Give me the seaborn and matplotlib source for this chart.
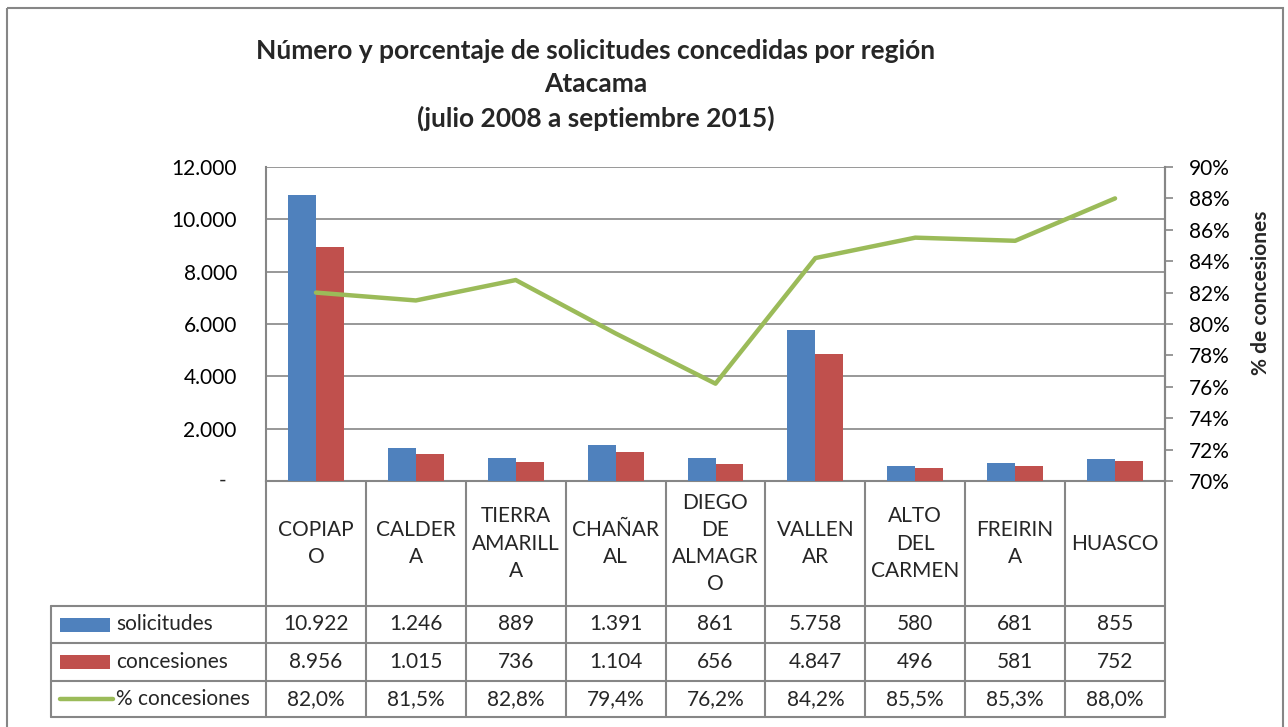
import numpy as np
import pandas as pd
import matplotlib
matplotlib.use("Agg")
import matplotlib.pyplot as plt
import matplotlib.transforms as mtransforms
from matplotlib.patches import Rectangle
from matplotlib.lines import Line2D
import seaborn as sns

# ---------------- data ----------------
regiones = ["COPIAPO", "CALDERA", "TIERRA AMARILLA", "CHAÑARAL", "DIEGO DE ALMAGRO",
            "VALLENAR", "ALTO DEL CARMEN", "FREIRINA", "HUASCO"]
etiquetas = ["COPIAP\nO", "CALDER\nA", "TIERRA\nAMARILL\nA", "CHAÑAR\nAL",
             "DIEGO\nDE\nALMAGR\nO", "VALLEN\nAR", "ALTO\nDEL\nCARMEN", "FREIRIN\nA", "HUASCO"]
solicitudes = [10922, 1246, 889, 1391, 861, 5758, 580, 681, 855]
concesiones = [8956, 1015, 736, 1104, 656, 4847, 496, 581, 752]
pct_concesiones = [82.0, 81.5, 82.8, 79.4, 76.2, 84.2, 85.5, 85.3, 88.0]
series = ["solicitudes", "concesiones", "% concesiones"]
titulo = "Número y porcentaje de solicitudes concedidas por región\nAtacama\n(julio 2008 a septiembre 2015)"
y_ticks = [0, 2000, 4000, 6000, 8000, 10000, 12000]
y2_ticks = [70, 72, 74, 76, 78, 80, 82, 84, 86, 88, 90]

BLUE, RED, GREEN, GRID = "#4F81BD", "#C0504D", "#9BBB59", "#868686"
FS = 15

sns.set_theme(style="white")
plt.rcParams["font.family"] = ["Lato", "DejaVu Sans"]

W, H = 1288, 727
fig = plt.figure(figsize=(W / 100, H / 100), dpi=100)

def fx(x):
    return x / W

def fy(y):
    return 1 - y / H

# overlay with pixel coords
ov = fig.add_axes([0, 0, 1, 1], zorder=-1)
ov.set_xlim(0, W)
ov.set_ylim(H, 0)
ov.axis("off")

L, R, T, B = 266, 1165, 167, 481
ax = fig.add_axes([fx(L), fy(B), fx(R - L), (B - T) / H])

df = pd.DataFrame({
    "region": regiones * 2,
    "valor": solicitudes + concesiones,
    "serie": [series[0]] * len(regiones) + [series[1]] * len(regiones),
})
sns.barplot(data=df, x="region", y="valor", hue="serie", palette=[BLUE, RED],
            width=0.56, saturation=1, linewidth=0, legend=False, ax=ax, zorder=3)
ax.set_xlim(-0.5, len(regiones) - 0.5)
ax.set_ylim(0, 12000)
ax.set_yticks(y_ticks)
ax.set_yticklabels([("" if v == 0 else f"{v:,}".replace(",", ".")) for v in y_ticks],
                   fontsize=FS, color="black")
ax.set_xticks([])
ax.set_xlabel("")
ax.set_ylabel("")
ax.yaxis.grid(True, color=GRID, linewidth=1.2, zorder=0)
ax.set_axisbelow(True)
ax.tick_params(axis="y", length=0, pad=21)
ax.spines["top"].set_visible(False)
for s in ["left", "right", "bottom"]:
    ax.spines[s].set_color(GRID)
    ax.spines[s].set_linewidth(1.5)
# accounting-style dash for the zero tick
trz = mtransforms.blended_transform_factory(ov.transData, ax.transData)
ov.text(223, y_ticks[0], "-", transform=trz, ha="center", va="center", fontsize=FS)

ax2 = ax.twinx()
sns.lineplot(x=np.arange(len(regiones)), y=pct_concesiones, color=GREEN, linewidth=3.2,
             ax=ax2, zorder=4)
ax2.set_ylim(70, 90)
ax2.set_yticks(y2_ticks)
ax2.set_yticklabels([f"{v}%" for v in y2_ticks], fontsize=FS, color="black")
ax2.tick_params(axis="y", length=6, width=1.2, color=GRID, pad=11, direction="out")
for s in ["top", "left", "bottom"]:
    ax2.spines[s].set_visible(False)
ax2.spines["right"].set_color(GRID)
ax2.spines["right"].set_linewidth(1.5)
ax2.set_xlim(-0.5, len(regiones) - 0.5)

fig.text(fx(1261), fy(293), "% de concesiones", rotation=90, ha="center", va="center",
         fontsize=FS, fontweight="bold")

fig.text(fx(596), fy(85), titulo, ha="center", va="center", fontsize=19,
         fontweight="bold", linespacing=1.45)

# ---------------- data table ----------------
tr = mtransforms.blended_transform_factory(ax.transData, ov.transData)
n = len(regiones)
bounds = np.arange(n + 1) - 0.5
lkw = dict(color=GRID, linewidth=1.5, transform=tr, clip_on=False)
for b in bounds:
    ov.add_line(Line2D([b, b], [481, 717], **lkw))
for yy in [606, 643, 681, 717]:
    ov.add_line(Line2D([-0.5, n - 0.5], [yy, yy], **lkw))
    ov.add_line(Line2D([51, L], [yy, yy], color=GRID, linewidth=1.5))
ov.add_line(Line2D([51, 51], [606, 717], color=GRID, linewidth=1.5))
ov.add_patch(Rectangle((7, 8), 1276, 730, fill=False, edgecolor=GRID, linewidth=1.5))

for i, lab in enumerate(etiquetas):
    ov.text(i, 543.5, lab, transform=tr, ha="center", va="center", fontsize=FS,
            linespacing=1.45)

fmt_int = lambda v: f"{v:,}".replace(",", ".")
fmt_pct = lambda v: f"{v:.1f}%".replace(".", ",")
rows = [
    (solicitudes, fmt_int, 624.5),
    (concesiones, fmt_int, 662),
    (pct_concesiones, fmt_pct, 699),
]
for vals, f, yc in rows:
    for i, v in enumerate(vals):
        ov.text(i, yc, f(v), transform=tr, ha="center", va="center", fontsize=FS)

# legend keys inside table
ov.add_patch(Rectangle((60, 617.5), 50, 14, facecolor=BLUE, edgecolor="none"))
ov.add_patch(Rectangle((60, 655), 50, 14, facecolor=RED, edgecolor="none"))
ov.add_line(Line2D([60, 113], [699, 699], color=GREEN, linewidth=3.2, solid_capstyle="round"))
ov.text(116, 624.5, series[0], ha="left", va="center", fontsize=FS)
ov.text(116, 662, series[1], ha="left", va="center", fontsize=FS)
ov.text(116, 699, series[2], ha="left", va="center", fontsize=FS)

fig.savefig("out.png", dpi=100)
